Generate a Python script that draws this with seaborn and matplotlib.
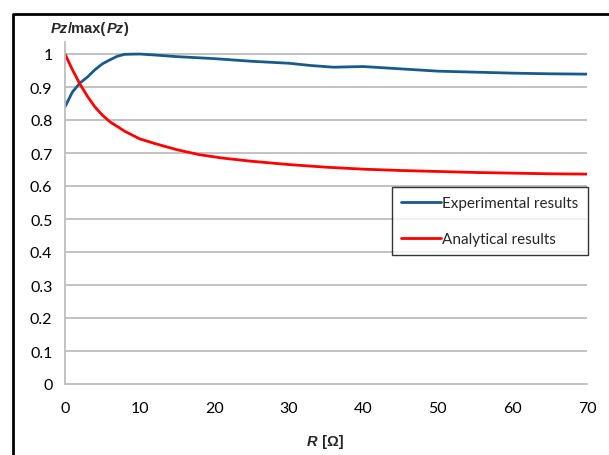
import matplotlib
matplotlib.use("Agg")
import matplotlib.pyplot as plt
import pandas as pd
import seaborn as sns
from matplotlib.lines import Line2D

# Measured normalised power vs load resistance
r_exp = [0, 1, 2, 3, 4, 5, 6, 7, 8, 10, 12, 15, 20, 25, 30, 33, 36, 40, 45, 50, 55, 60, 65, 70]
p_exp = [0.84, 0.885, 0.912, 0.93, 0.952, 0.97, 0.982, 0.993, 0.999, 1.0, 0.997, 0.992,
         0.986, 0.978, 0.972, 0.965, 0.960, 0.962, 0.955, 0.948, 0.945, 0.942, 0.940, 0.939]

# Model prediction
r_ana = [0, 1, 2, 3, 4, 5, 6, 8, 10, 12, 15, 18, 21, 25, 30, 35, 40, 45, 50, 55, 60, 65, 70]
p_ana = [1.0, 0.952, 0.909, 0.872, 0.84, 0.815, 0.795, 0.766, 0.743, 0.729, 0.71, 0.695,
         0.685, 0.675, 0.665, 0.657, 0.651, 0.647, 0.644, 0.641, 0.639, 0.637, 0.636]

series_names = ["Experimental results", "Analytical results"]
x_ticks = [0, 10, 20, 30, 40, 50, 60, 70]
y_ticks = [0, 0.1, 0.2, 0.3, 0.4, 0.5, 0.6, 0.7, 0.8, 0.9, 1]
y_tick_labels = ["0", "0.1", "0.2", "0.3", "0.4", "0.5", "0.6", "0.7", "0.8", "0.9", "1"]

df = pd.concat([
    pd.DataFrame({"R": r_exp, "P": p_exp, "series": series_names[0]}),
    pd.DataFrame({"R": r_ana, "P": p_ana, "series": series_names[1]}),
])

sns.set_style("white")
plt.rcParams["font.family"] = ["Lato", "DejaVu Sans"]
TITLE_FONT = ["Liberation Sans", "DejaVu Sans"]

W, H = 609, 456
fig = plt.figure(figsize=(W / 100, H / 100), dpi=100)
ax_left, ax_right, ax_bottom, ax_top = 65, 587, 385, 43
ax = fig.add_axes([ax_left / W, 1 - ax_bottom / H,
                   (ax_right - ax_left) / W, (ax_bottom - ax_top) / H])

palette = {series_names[0]: "#185a8a", series_names[1]: "#ff0000"}
sns.lineplot(data=df, x="R", y="P", hue="series", palette=palette,
             linewidth=2.0, ax=ax, legend=False, sort=True)

grid_c = "#bdbdbd"
ax.set_xlim(0, 70)
ax.set_ylim(0, (ax_bottom - ax_top) / 330)
ax.set_yticks(y_ticks)
ax.set_yticklabels(y_tick_labels)
ax.set_xticks(x_ticks)
for y in y_ticks[1:]:
    ax.axhline(y, color=grid_c, lw=1.3, zorder=0)

for s in ["top", "right"]:
    ax.spines[s].set_visible(False)
for s in ["left", "bottom"]:
    ax.spines[s].set_color(grid_c)
    ax.spines[s].set_linewidth(1.3)
ax.tick_params(axis="both", direction="out", length=5, width=1.0, color=grid_c,
               labelsize=11.5, labelcolor="black", pad=4)
ax.tick_params(axis="x", pad=7)
ax.set_xlabel("")
ax.set_ylabel("")

# Legend
handles = [Line2D([], [], color=palette[n], lw=2.0) for n in series_names]
leg = ax.legend(handles, series_names, loc="upper left", bbox_to_anchor=(0.626, 0.576),
                borderaxespad=0, frameon=True, fancybox=False, fontsize=11,
                handlelength=2.6, handletextpad=0.1, labelspacing=1.45,
                borderpad=0.6)
leg.get_frame().set_edgecolor("black")
leg.get_frame().set_linewidth(1.0)

# Axis titles with italic variable names
def chained(parts, x, y):
    prev = None
    for txt, style in parts:
        kw = dict(fontsize=10.5, fontweight="bold", fontstyle=style, va="bottom",
                  family=TITLE_FONT)
        if prev is None:
            prev = fig.text(x, y, txt, ha="left", **kw)
        else:
            prev = ax.annotate(txt, xy=(1, 0), xycoords=prev, ha="left", **kw)

chained([("Pz", "italic"), ("/max(", "normal"), ("Pz", "italic"), (")", "normal")],
        51 / W, 1 - 36 / H)
chained([("R", "italic"), (" [Ω]", "normal")], 307 / W, 1 - 449 / H)

# Outer chart frame
fig.add_artist(Line2D([13 / W, 13 / W, 1.0], [0.0, 1 - 15 / H, 1 - 15 / H],
                      color="black", lw=2.0, transform=fig.transFigure))

fig.savefig("out.png", dpi=100)
